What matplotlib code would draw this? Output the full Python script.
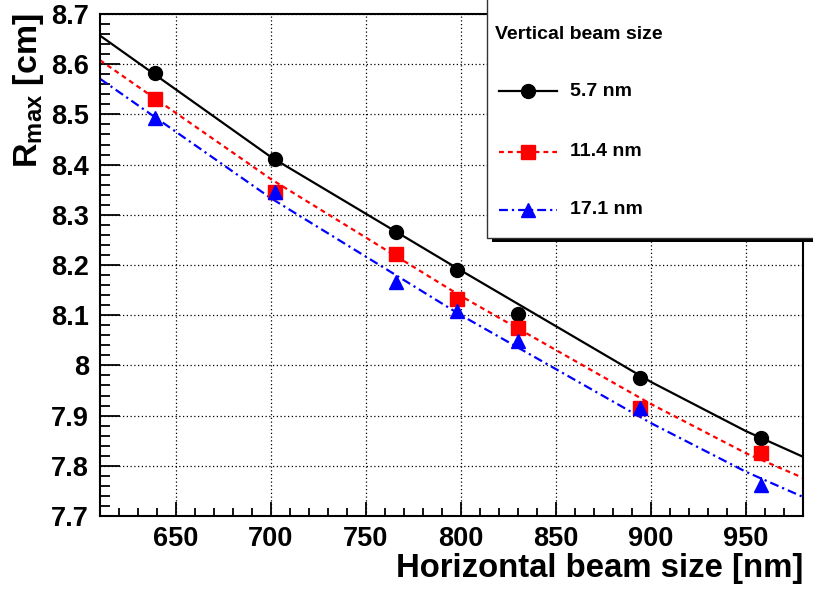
import matplotlib

matplotlib.use("Agg")
import matplotlib.pyplot as plt
from matplotlib.lines import Line2D
from matplotlib.patches import Rectangle
from matplotlib.ticker import MultipleLocator

plt.rcParams["font.family"] = ["Liberation Sans", "DejaVu Sans"]
plt.rcParams["font.weight"] = "bold"
plt.rcParams["mathtext.fontset"] = "custom"
plt.rcParams["mathtext.rm"] = "Liberation Sans:bold"
plt.rcParams["mathtext.bf"] = "Liberation Sans:bold"
plt.rcParams["mathtext.it"] = "Liberation Sans:bold"

# measured points
beam_x = [639, 702, 766, 798, 830, 894, 958]
r_57 = [8.582, 8.411, 8.266, 8.190, 8.102, 7.975, 7.855]
r_114 = [8.531, 8.345, 8.222, 8.132, 8.075, 7.915, 7.825]
r_171 = [8.493, 8.345, 8.166, 8.108, 8.049, 7.915, 7.762]
err_171 = [0, 0, 0, 0, 0, 0, 0.016]

# fit curves
fit_x = [610, 700, 800, 900, 950, 980]
fit_57 = [8.657, 8.415, 8.189, 7.967, 7.869, 7.818]
fit_114 = [8.608, 8.371, 8.138, 7.923, 7.825, 7.776]
fit_171 = [8.571, 8.333, 8.100, 7.885, 7.788, 7.738]

labels = ["5.7 nm", "11.4 nm", "17.1 nm"]

series = [
    (r_57, None, fit_57, dict(color="black", marker="o", ms=10, ls="-")),
    (r_114, None, fit_114, dict(color="#ff0000", marker="s", ms=9.5, ls=(0, (2.2, 1.8)))),
    (r_171, err_171, fit_171, dict(color="#0000ff", marker="^", ms=10, ls=(0, (4, 1.8, 1, 1.8)))),
]

W, H = 813, 589
fig = plt.figure(figsize=(W / 100, H / 100), dpi=100)
ax = fig.add_axes([100 / W, 1 - 516 / H, 703 / W, 502 / H])

for y, yerr, fit, st in series:
    ax.plot(fit_x, fit, color=st["color"], ls=st["ls"], lw=1.6, zorder=2)
    if yerr is not None:
        ax.errorbar(beam_x, y, yerr=yerr, fmt="none", ecolor=st["color"], elinewidth=1.5, zorder=3)
    ax.plot(beam_x, y, ls="none", marker=st["marker"], ms=st["ms"], color=st["color"],
            mec=st["color"], zorder=4)

ax.set_xlim(610, 980)
ax.set_ylim(7.7, 8.7)
ax.xaxis.set_major_locator(MultipleLocator(50))
ax.xaxis.set_minor_locator(MultipleLocator(10))
ax.yaxis.set_major_locator(MultipleLocator(0.1))
ax.yaxis.set_minor_locator(MultipleLocator(0.02))
ax.yaxis.set_major_formatter(matplotlib.ticker.FuncFormatter(
    lambda v, p: "8" if abs(v - 8) < 1e-6 else f"{v:.1f}"))

ax.tick_params(axis="both", which="both", direction="in", top=False, right=False,
               labelsize=19.5, width=1.3)
ax.tick_params(axis="y", which="major", length=14.5, pad=8)
ax.tick_params(axis="y", which="minor", length=7.2)
ax.tick_params(axis="x", which="major", length=10, pad=7)
ax.tick_params(axis="x", which="minor", length=5.6)
for lab in ax.get_xticklabels() + ax.get_yticklabels():
    lab.set_fontweight("bold")

ax.grid(True, which="major", color="black", ls=(0, (1, 2)), lw=0.9)
for sp in ax.spines.values():
    sp.set_linewidth(1.5)

fig.text(803 / W, 1 - 577 / H, "Horizontal beam size [nm]", ha="right", va="baseline",
         fontsize=23.7, fontweight="bold")
fig.text(29 / W, 1 - 13 / H, r"$\mathbf{R_{max}}$ [cm]", rotation=90, ha="center", va="top",
         fontsize=24.5, fontweight="bold")

# legend box with shadow, ROOT style
fig.add_artist(Rectangle((492 / W, 1 - 242 / H), 330 / W, 250 / H, transform=fig.transFigure,
                         facecolor="black", edgecolor="none", zorder=9))
fig.add_artist(Rectangle((487 / W, 1 - 238 / H), 330 / W, 250 / H, transform=fig.transFigure,
                         facecolor="white", edgecolor="#333333", lw=1.0, zorder=10))
fig.text(495 / W, 1 - 39 / H, "Vertical beam size", ha="left", va="baseline",
         fontsize=14, fontweight="bold", zorder=11)
rows = [91, 152, 210]
for (y, yerr, fit, st), lab, ry in zip(series, labels, rows):
    yy = 1 - ry / H
    fig.add_artist(Line2D([499 / W, 557 / W], [yy, yy], transform=fig.transFigure,
                          color=st["color"], ls=st["ls"], lw=1.6, zorder=11))
    fig.add_artist(Line2D([528 / W], [yy], transform=fig.transFigure, marker=st["marker"],
                          ms=st["ms"], color=st["color"], ls="none", zorder=12))
    fig.text(570 / W, yy, lab, ha="left", va="center", fontsize=14, fontweight="bold", zorder=12)

fig.savefig("out.png", dpi=100)
